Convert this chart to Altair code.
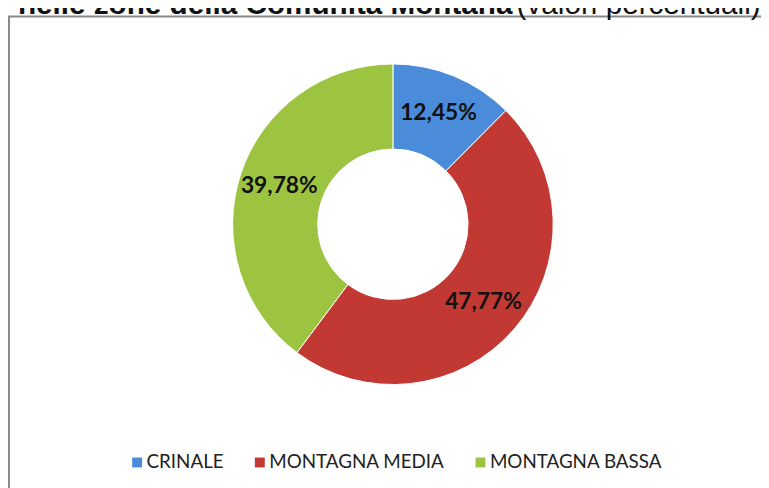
import altair as alt
import pandas as pd

zone = ["CRINALE", "MONTAGNA MEDIA", "MONTAGNA BASSA"]
valori = [12.45, 47.77, 39.78]
etichette = ["12,45%", "47,77%", "39,78%"]
colori = ["#4A8BDA", "#C23833", "#9DC441"]
titolo_bold = "nelle zone della Comunità Montana"
titolo_reg = "(valori percentuali)"

df = pd.DataFrame({"zona": zone, "valore": valori, "etichetta": etichette, "ordine": list(range(len(zone)))})

cx, cy = 389, 216

base = alt.Chart(df).encode(
    theta=alt.Theta("valore:Q", stack=True),
    order=alt.Order("ordine:Q", sort="ascending"),
    x=alt.value(cx),
    y=alt.value(cy),
)

arcs = base.mark_arc(innerRadius=76, outerRadius=162, stroke="#ffffff", strokeWidth=1).encode(
    color=alt.Color(
        "zona:N",
        scale=alt.Scale(domain=zone, range=colori),
        legend=alt.Legend(
            title=None,
            orient="none",
            legendX=121,
            legendY=447,
            direction="horizontal",
            columns=3,
            symbolType="square",
            symbolSize=100,
            symbolStrokeWidth=0,
            labelFont="Lato",
            labelFontSize=19,
            labelColor="#222222",
            labelOffset=0,
            columnPadding=26,
            labelLimit=300,
        ),
    )
)

labels = base.mark_text(radius=121, fontSize=23, fontWeight="bold", font="Lato", color="#111111").encode(
    text="etichetta:N"
)

one = alt.Data(values=[{"a": 1}])

border = alt.Chart(one).mark_rect(fillOpacity=0, stroke="#8a8a8a", strokeWidth=2).encode(
    x=alt.value(1), x2=alt.value(900), y=alt.value(6), y2=alt.value(700)
)

t1 = alt.Chart(one).mark_text(
    text=titolo_bold, font="Liberation Sans", fontWeight="bold", fontSize=30, align="left", baseline="alphabetic", color="#111111"
).encode(x=alt.value(10), y=alt.value(3.5))

t2 = alt.Chart(one).mark_text(
    text=titolo_reg, font="Liberation Sans", fontSize=30, align="left", baseline="alphabetic", color="#111111"
).encode(x=alt.value(514), y=alt.value(3.5))

chart = alt.layer(border, t1, t2, arcs, labels).properties(
    width=761, height=480, autosize=alt.AutoSizeParams(type="none"), padding=0
).configure_view(stroke=None)

chart.save("out.html", embed_options={"renderer": "svg", "actions": False})
